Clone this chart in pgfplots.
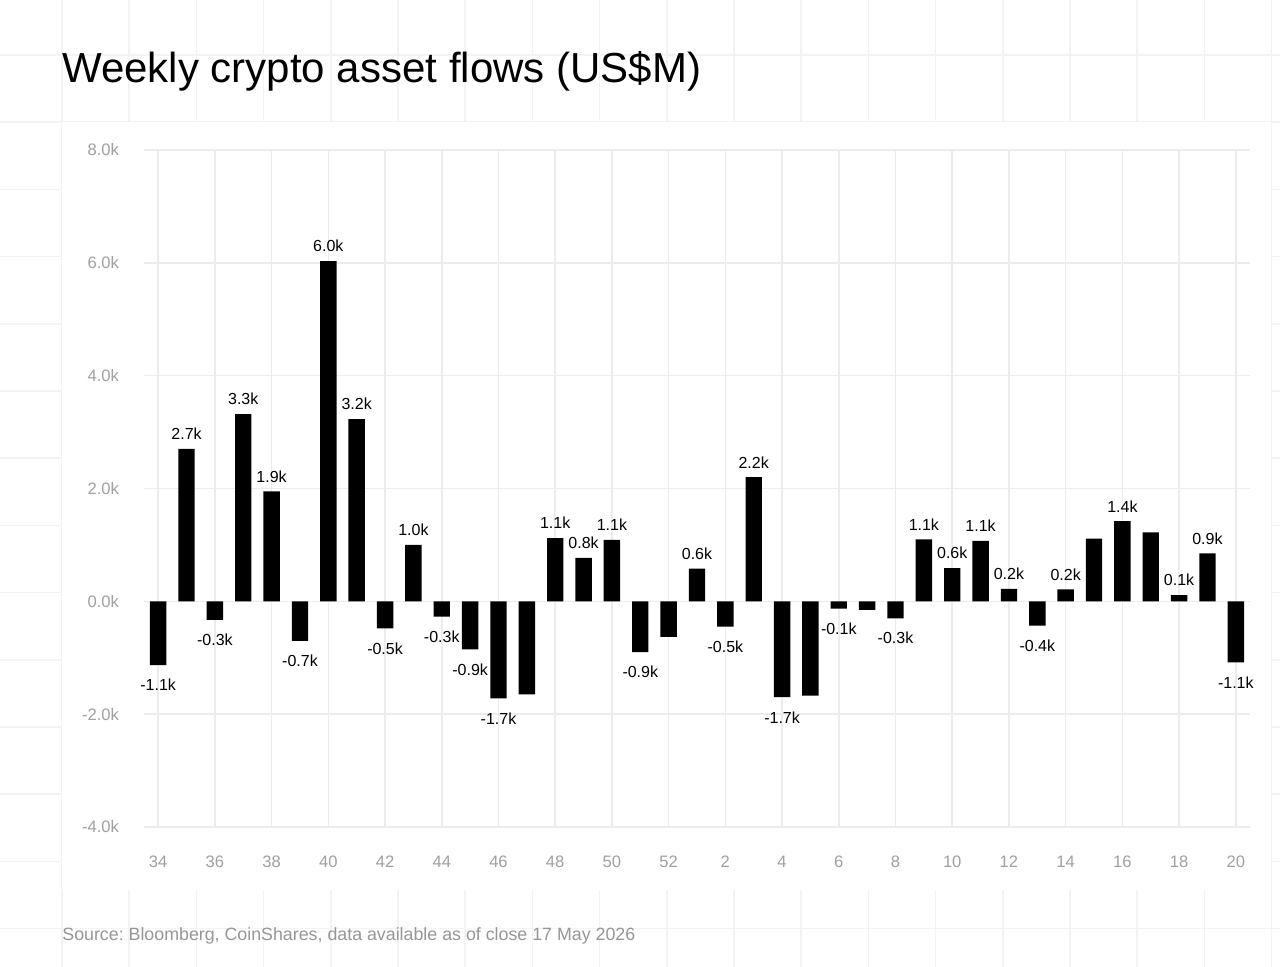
\documentclass[border=0pt]{standalone}
\usepackage{pgfplots}
\pgfplotsset{compat=1.18}
\usepackage{pgfplotstable}
\usepackage{fontspec}
\setmainfont{Liberation Sans}
\frenchspacing

\definecolor{gridc}{RGB}{236,236,236}
\definecolor{bggrid}{RGB}{243,243,243}
\definecolor{ticktxt}{RGB}{160,160,160}
\definecolor{srctxt}{RGB}{150,150,150}

% weekly flows, US$ bn (k of US$M); idx 0 = week 34
\pgfplotstableread{
idx val lab
0 -1.13 -1.1k
1 2.70 2.7k
2 -0.33 -0.3k
3 3.32 3.3k
4 1.95 1.9k
5 -0.70 -0.7k
6 6.03 6.0k
7 3.23 3.2k
8 -0.48 -0.5k
9 1.00 1.0k
10 -0.27 -0.3k
11 -0.85 -0.9k
12 -1.72 -1.7k
13 -1.65 {}
14 1.12 1.1k
15 0.77 0.8k
16 1.09 1.1k
17 -0.90 -0.9k
18 -0.63 {}
19 0.58 0.6k
20 -0.45 -0.5k
21 2.20 2.2k
22 -1.70 -1.7k
23 -1.67 {}
24 -0.13 -0.1k
25 -0.15 {}
26 -0.30 -0.3k
27 1.10 1.1k
28 0.59 0.6k
29 1.07 1.1k
30 0.22 0.2k
31 -0.43 -0.4k
32 0.21 0.2k
33 1.11 {}
34 1.42 1.4k
35 1.22 {}
36 0.11 0.1k
37 0.85 0.9k
38 -1.08 -1.1k
}\flows

\begin{document}
\begin{tikzpicture}
\useasboundingbox (0,0) rectangle (640pt,-483.5pt);
\fill[white] (0,0) rectangle (640pt,-483.5pt);

% page background grid
\begin{scope}[x=0.5pt,y=-0.5pt]
  \clip (0,0) rectangle (1280,967);
  \foreach \k in {-1,...,18} {
    \draw[bggrid, line width=0.75pt] (62+67.2*\k,0) -- (62+67.2*\k,967);
    \draw[bggrid, line width=0.75pt] (0,55+67.2*\k) -- (1280,55+67.2*\k);
  }
  \fill[white] (62,122) rectangle (1271,890);
\end{scope}

\node[anchor=base west, inner sep=0, font=\fontsize{21}{25}\selectfont]
  at (31pt,-41.5pt) {Weekly crypto asset flows (US\$M)};

\begin{axis}[
  at={(72pt,-413.5pt)}, anchor=south west,
  scale only axis,
  width=553pt, height=338.5pt,
  xmin=-0.5, xmax=38.5,
  ymin=-4, ymax=8,
  xtick={0,2,...,38},
  xticklabels={34,36,38,40,42,44,46,48,50,52,2,4,6,8,10,12,14,16,18,20},
  ytick={-4,-2,0,2,4,6,8},
  yticklabels={-4.0k,-2.0k,0.0k,2.0k,4.0k,6.0k,8.0k},
  grid=major,
  grid style={gridc, line width=0.75pt},
  axis line style={draw=none},
  major tick length=0pt,
  tick label style={font=\fontsize{8.3}{10}\selectfont, text=ticktxt},
  yticklabel style={xshift=-9pt},
  xticklabel style={yshift=-11pt},
  clip=false,
]
\addplot[ybar, bar width=8.2pt, bar shift=0pt, fill=black, draw=none,
  nodes near coords, point meta=explicit symbolic,
  visualization depends on={\thisrow{val} \as \v},
  every node near coord/.append style={font=\fontsize{8}{9.6}\selectfont,
    text=black, inner sep=0pt, anchor=center,
    yshift={ifthenelse(\v<0,-10,7.5)}},
] table[x=idx, y=val, meta=lab] {\flows};
\end{axis}

\node[anchor=base west, inner sep=0, font=\fontsize{8.9}{10.5}\selectfont, text=srctxt]
  at (31pt,-470pt) {Source: Bloomberg, CoinShares, data available as of close 17 May 2026};
\end{tikzpicture}
\end{document}
